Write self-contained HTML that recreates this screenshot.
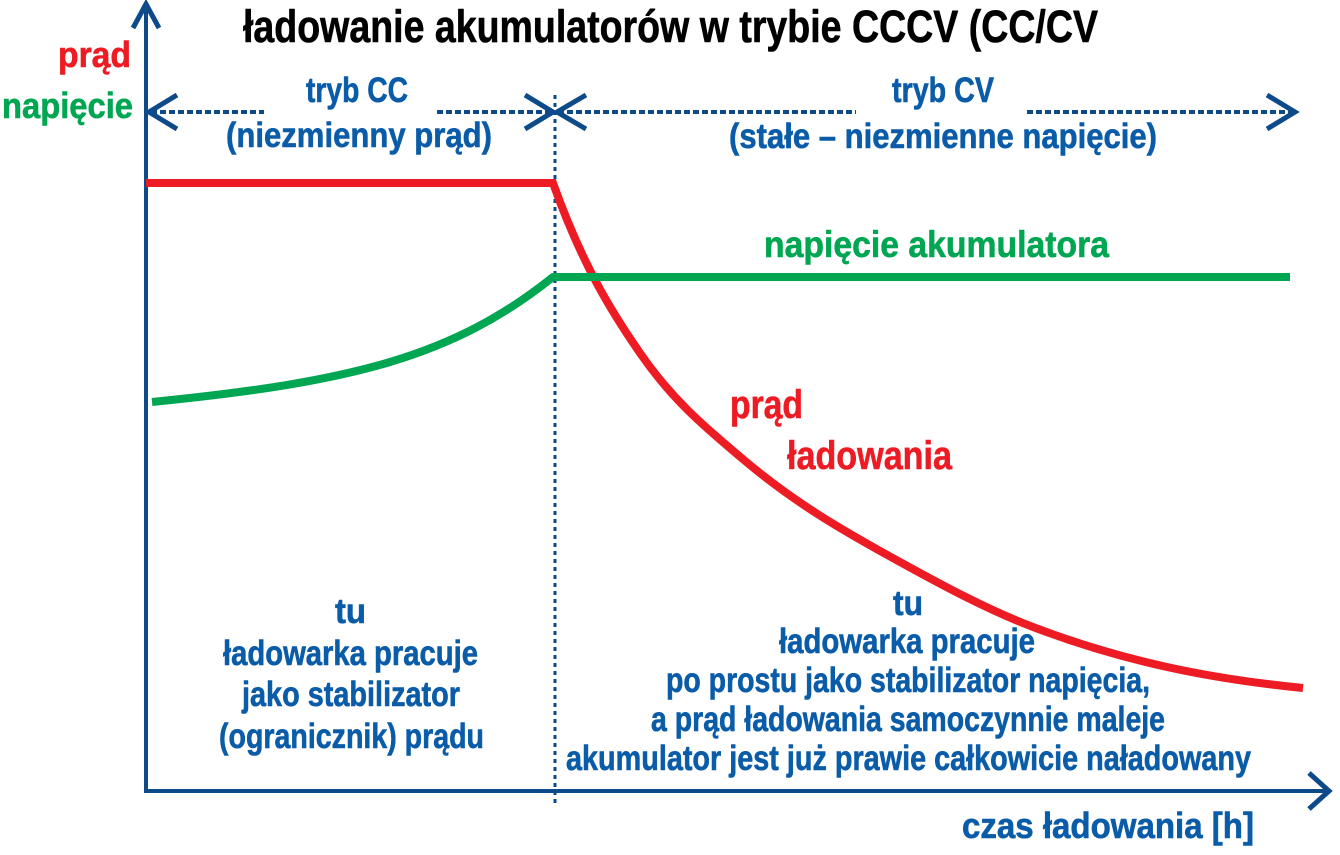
<!DOCTYPE html>
<html><head><meta charset="utf-8">
<style>
html,body{margin:0;padding:0;background:#fff;}
svg{display:block;}
text{font-family:"Liberation Sans",sans-serif;font-weight:bold;stroke-width:0.6;stroke-linejoin:round;}
.b{fill:#0a5ca8;stroke:#0a5ca8;}
.r{fill:#ed1c24;stroke:#ed1c24;}
.g{fill:#00a651;stroke:#00a651;}
.k{fill:#000;stroke:#000;}
</style></head>
<body>
<svg width="1340" height="855" viewBox="0 0 1340 855" xmlns="http://www.w3.org/2000/svg">
<!-- axes -->
<g stroke="#0d4a8a" fill="none" stroke-linecap="butt">
<line x1="146" y1="3" x2="146" y2="793" stroke-width="4"/>
<line x1="144" y1="791" x2="1328" y2="791" stroke-width="4"/>
<polyline points="133,28 146,4 159,28" stroke-width="5"/>
<polyline points="1309,773 1329,791 1309,809" stroke-width="5"/>
</g>
<!-- dotted vertical -->
<line x1="555" y1="95" x2="555" y2="806" stroke="#0d4a8a" stroke-width="3" stroke-dasharray="4 4"/>
<!-- dashed arrows -->
<g stroke="#0d4a8a" fill="none">
<line x1="151" y1="112" x2="264" y2="112" stroke-width="4" stroke-dasharray="6 3"/>
<line x1="437" y1="112" x2="552" y2="112" stroke-width="4" stroke-dasharray="6 3"/>
<line x1="558" y1="112" x2="856" y2="112" stroke-width="4" stroke-dasharray="6 3"/>
<line x1="1027" y1="112" x2="1293" y2="112" stroke-width="4" stroke-dasharray="6 3"/>
<polyline points="177,95 149,112 177,129" stroke-width="5"/>
<polyline points="525,95 553,112 525,129" stroke-width="5"/>
<polyline points="586,95 557,112 586,129" stroke-width="5"/>
<polyline points="1267,95 1295,112 1267,129" stroke-width="5"/>
</g>
<!-- red current -->
<path fill="none" stroke="#ed1c24" stroke-width="8" stroke-linejoin="miter" d="M146,183 L553,183 C582,264.2 611,311 640,353 C674.7,403.3 709.3,430.5 744,460 C796,504.2 848,533.4 900,562 C944.3,586.4 988.7,610.2 1033,627 C1077.7,644 1122.3,657.2 1167,667 C1212.3,677 1257.7,683.5 1303,688"/>
<!-- green voltage -->
<path fill="none" stroke="#00a651" stroke-width="8" stroke-linejoin="round" d="M152,402 C352,382 453,357 553,277 L1290,277"/>
<!-- title -->
<text class="k" x="243" y="42" font-size="45" textLength="855" lengthAdjust="spacingAndGlyphs">ładowanie akumulatorów w trybie CCCV (CC/CV</text>
<text class="r" x="58" y="67" font-size="36" textLength="73" lengthAdjust="spacingAndGlyphs">prąd</text>
<text class="g" x="2" y="118" font-size="36" textLength="131" lengthAdjust="spacingAndGlyphs">napięcie</text>
<text class="b" x="306" y="102" font-size="35" textLength="102" lengthAdjust="spacingAndGlyphs">tryb CC</text>
<text class="b" x="226" y="147" font-size="35" textLength="266" lengthAdjust="spacingAndGlyphs">(niezmienny prąd)</text>
<text class="b" x="892" y="102" font-size="35" textLength="102" lengthAdjust="spacingAndGlyphs">tryb CV</text>
<text class="b" x="729" y="148" font-size="35" textLength="428" lengthAdjust="spacingAndGlyphs">(stałe – niezmienne napięcie)</text>
<text class="g" x="764" y="257" font-size="37" textLength="345" lengthAdjust="spacingAndGlyphs">napięcie akumulatora</text>
<text class="r" x="730" y="418" font-size="40" textLength="73" lengthAdjust="spacingAndGlyphs">prąd</text>
<text class="r" x="787" y="469" font-size="40" textLength="165" lengthAdjust="spacingAndGlyphs">ładowania</text>
<!-- left block -->
<text class="b" x="335" y="623" font-size="35" textLength="31" lengthAdjust="spacingAndGlyphs">tu</text>
<text class="b" x="223" y="665" font-size="35" textLength="255" lengthAdjust="spacingAndGlyphs">ładowarka pracuje</text>
<text class="b" x="242" y="706" font-size="35" textLength="218" lengthAdjust="spacingAndGlyphs">jako stabilizator</text>
<text class="b" x="219" y="748" font-size="35" textLength="265" lengthAdjust="spacingAndGlyphs">(ogranicznik) prądu</text>
<!-- right block -->
<text class="b" x="893" y="615" font-size="35" textLength="30" lengthAdjust="spacingAndGlyphs">tu</text>
<text class="b" x="779" y="653" font-size="35" textLength="256" lengthAdjust="spacingAndGlyphs">ładowarka pracuje</text>
<text class="b" x="666" y="692" font-size="35" textLength="484" lengthAdjust="spacingAndGlyphs">po prostu jako stabilizator napięcia,</text>
<text class="b" x="651" y="731" font-size="35" textLength="514" lengthAdjust="spacingAndGlyphs">a prąd ładowania samoczynnie maleje</text>
<text class="b" x="566" y="770" font-size="35" textLength="685" lengthAdjust="spacingAndGlyphs">akumulator jest już prawie całkowicie naładowany</text>
<text class="b" x="962" y="838" font-size="36" textLength="292" lengthAdjust="spacingAndGlyphs">czas ładowania [h]</text>
</svg>
</body></html>
